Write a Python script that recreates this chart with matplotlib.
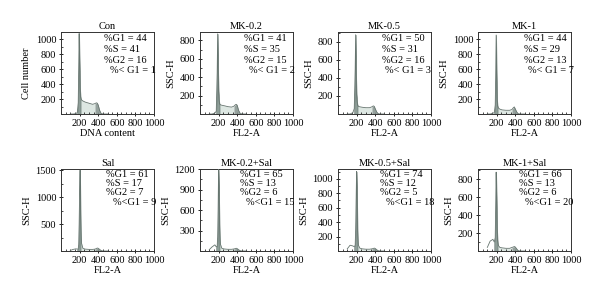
import matplotlib

matplotlib.use('Agg')
import matplotlib.pyplot as plt
from matplotlib.ticker import MultipleLocator, FixedLocator

plt.rcParams['font.family'] = ['Liberation Serif', 'DejaVu Serif']
plt.rcParams['font.size'] = 7.5

# FL2-A channel grid (shared by all panels)
CHANNELS = [100, 130, 160, 175, 185, 190, 195, 200, 205, 210, 220, 235,
            260, 300, 340, 365, 380, 390, 400, 415, 430, 450, 500]

TITLES = ['Con', 'MK-0.2', 'MK-0.5', 'MK-1',
          'Sal', 'MK-0.2+Sal', 'MK-0.5+Sal', 'MK-1+Sal']

# cell counts per channel
COUNTS = [
  [0, 0, 5, 20, 150, 600, 1080, 700, 350, 230, 190, 175, 160, 145, 130, 140, 150, 145, 120, 50, 10, 0, 0],
  [0, 0, 10, 30, 450, 870, 500, 250, 150, 110, 100, 95, 90, 80, 75, 85, 100, 105, 95, 40, 10, 0, 0],
  [0, 0, 15, 60, 500, 880, 450, 220, 140, 100, 85, 80, 75, 70, 70, 80, 90, 85, 60, 25, 5, 0, 0],
  [0, 0, 10, 20, 120, 500, 1060, 550, 200, 110, 80, 65, 55, 50, 50, 60, 85, 95, 70, 30, 5, 0, 0],
  [10, 30, 40, 35, 40, 120, 500, 1100, 1500, 700, 150, 50, 35, 30, 30, 35, 45, 55, 50, 30, 10, 0, 0],
  [20, 60, 90, 60, 70, 200, 600, 1200, 900, 400, 100, 40, 30, 25, 25, 30, 35, 40, 35, 20, 5, 0, 0],
  [30, 80, 70, 60, 80, 300, 700, 1100, 800, 300, 80, 40, 30, 25, 25, 30, 35, 40, 35, 20, 5, 0, 0],
  [40, 110, 130, 100, 150, 500, 880, 600, 250, 120, 60, 40, 35, 30, 30, 40, 45, 50, 45, 25, 5, 0, 0],
]

G1 = [44, 41, 50, 44, 61, 65, 74, 66]
S = [41, 35, 31, 29, 17, 13, 12, 13]
G2 = [16, 15, 16, 13, 7, 6, 5, 6]
SUB_G1 = [1, 2, 3, 7, 9, 15, 18, 20]

YMAX = [1100, 890, 910, 1100, 1520, 1200, 1135, 915]
YTICKS = [
  [200, 400, 600, 800, 1000],
  [200, 400, 600, 800],
  [200, 400, 600, 800],
  [200, 400, 600, 800, 1000],
  [500, 1000, 1500],
  [300, 600, 900, 1200],
  [200, 400, 600, 800, 1000],
  [200, 400, 600, 800],
]
XTICKS = [200, 400, 600, 800, 1000]

# layout (figure fractions)
LEFTS = [0.1017, 0.3333, 0.5633, 0.7967]
BOTTOMS = [0.6187, 0.1605]
W, H = 0.155, 0.2742
TEXT_X = [(0.466, 0.527), (0.476, 0.53), (0.47, 0.51), (0.49, 0.54),
          (0.484, 0.556), (0.43, 0.495), (0.45, 0.516), (0.44, 0.505)]

C_G1 = '#8e9e98'
C_S = '#dde7e2'
C_G2 = '#8a9792'
C_LINE = '#66756f'

fig = plt.figure(figsize=(6.0, 2.99), dpi=100)

for i in range(8):
  row, col = divmod(i, 4)
  ax = fig.add_axes([LEFTS[col], BOTTOMS[row], W, H])
  y = COUNTS[i]
  x = CHANNELS
  in_g1 = [175 <= c <= 215 for c in x]
  in_s = [205 <= c <= 370 for c in x]
  in_g2 = [360 <= c <= 440 for c in x]
  ax.fill_between(x, 0, y, where=in_s, color=C_S, lw=0, interpolate=True, zorder=1)
  ax.fill_between(x, 0, y, where=in_g2, color=C_G2, lw=0, alpha=0.9, zorder=2)
  ax.fill_between(x, 0, y, where=in_g1, color=C_G1, edgecolor='#5f6e69', lw=0.4, zorder=2)
  ax.plot(x, y, color=C_LINE, lw=0.6, zorder=3)

  ax.set_xlim(0, 1000)
  ax.set_ylim(0, YMAX[i])
  ax.xaxis.set_major_locator(FixedLocator(XTICKS))
  ax.xaxis.set_minor_locator(MultipleLocator(50))
  ax.yaxis.set_major_locator(FixedLocator(YTICKS[i]))
  ax.yaxis.set_minor_locator(MultipleLocator(YTICKS[i][0] / 2))
  ax.tick_params(which='major', direction='inout', length=3, width=0.6,
                 labelsize=7.5, pad=2)
  ax.tick_params(which='minor', direction='in', length=1.5, width=0.5)
  for sp in ax.spines.values():
    sp.set_linewidth(0.7)
    sp.set_color('#333333')

  ax.set_title(TITLES[i], fontsize=7.5, pad=2)
  ax.set_xlabel('DNA content' if i == 0 else 'FL2-A', fontsize=7.5, labelpad=1)
  ax.set_ylabel('Cell number' if i == 0 else 'SSC-H', fontsize=7.5, labelpad=3)

  lt = '%< G1 = ' if row == 0 else '%<G1 = '
  lines = [f'%G1 = {G1[i]}', f'%S = {S[i]}', f'%G2 = {G2[i]}', f'{lt}{SUB_G1[i]}']
  ys = [0.915, 0.785, 0.655, 0.525] if row == 0 else [0.935, 0.822, 0.709, 0.596]
  for k, (txt, yy) in enumerate(zip(lines, ys)):
    xx = TEXT_X[i][1] if k == 3 else TEXT_X[i][0]
    ax.text(xx, yy, txt, transform=ax.transAxes, ha='left', va='center',
            fontsize=7.5, zorder=5)

fig.savefig('out.png', dpi=100)
